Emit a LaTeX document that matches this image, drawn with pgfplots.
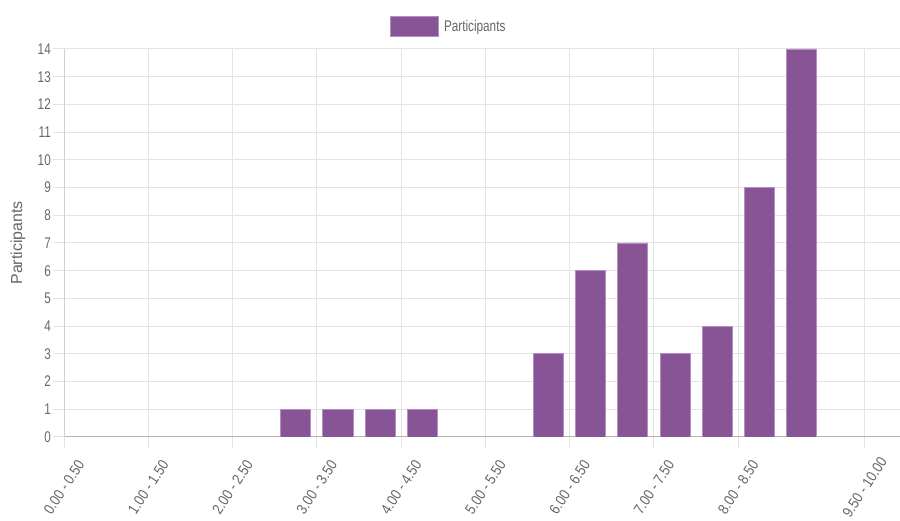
\documentclass[border=0pt]{standalone}
\usepackage{fontspec}
\setmainfont{Liberation Sans}[FakeStretch=0.76]
\newfontfamily\ylabfont{Liberation Sans}
\newfontfamily\xlabfont{Liberation Sans}[FakeStretch=0.86]
\usepackage{pgfplots}
\pgfplotsset{compat=1.18}

\definecolor{barfill}{HTML}{875496}
\definecolor{barline}{HTML}{B58CC4}
\definecolor{gridc}{HTML}{E4E4E4}
\definecolor{txt}{HTML}{666666}
\definecolor{zeroline}{HTML}{B4B4B4}

\begin{document}
\begin{tikzpicture}[x=1bp,y=1bp]
\useasboundingbox (0,0) rectangle (900,521);
\begin{axis}[
    at={(64bp,84bp)}, anchor=south west,
    scale only axis,
    width=836bp, height=388bp,
    xmin=0, xmax=9.92,
    ymin=0, ymax=14,
    ybar, bar width=0.356,
    xtick={0,1,2,3,4,5,6,7,8,9.5},
    xticklabels={0.00 - 0.50, 1.00 - 1.50, 2.00 - 2.50, 3.00 - 3.50, 4.00 - 4.50,
                 5.00 - 5.50, 6.00 - 6.50, 7.00 - 7.50, 8.00 - 8.50, 9.50 - 10.00},
    ytick={0,1,...,14},
    grid=major,
    major grid style={gridc, line width=1bp},
    tick align=outside,
    major tick length=11bp,
    tick style={gridc, line width=1bp},
    axis x line*=bottom,
    axis y line*=left,
    x axis line style={zeroline, line width=1bp, -},
    y axis line style={gridc!80!gray, line width=1bp, -},
    tick label style={text=txt},
    yticklabel style={font=\fontsize{15.5}{17}\selectfont, anchor=east, inner sep=0pt, xshift=-2bp},
    xticklabel style={font=\xlabfont\fontsize{15}{17}\selectfont, anchor=center, inner sep=0pt,
                      yshift=-39bp, rotate=57},
    /pgf/number format/assume math mode=true,
    ylabel={Participants},
    ylabel style={font=\ylabfont\fontsize{16}{18}\selectfont, text=txt,
                  at={(axis description cs:-0.055,0.5)}, anchor=center},
    legend style={at={(axis description cs:0.462,1.0567)}, anchor=center,
                  draw=none, fill=none, inner sep=0pt, text=txt,
                  font=\fontsize{15.5}{17}\selectfont,
                  nodes={inner xsep=5bp}},
]
\addplot[fill=barfill, draw=barline, line width=0.8bp,
    legend image code/.code={\draw[fill=barfill, draw=barline, line width=1bp] (0bp,-10bp) rectangle (48bp,10bp);}]
coordinates {
    (2.75,1) (3.25,1) (3.75,1) (4.25,1)
    (5.75,3) (6.25,6) (6.75,7) (7.25,3)
    (7.75,4) (8.25,9) (8.75,14)
};
\legend{Participants}
\end{axis}
\end{tikzpicture}
\end{document}
